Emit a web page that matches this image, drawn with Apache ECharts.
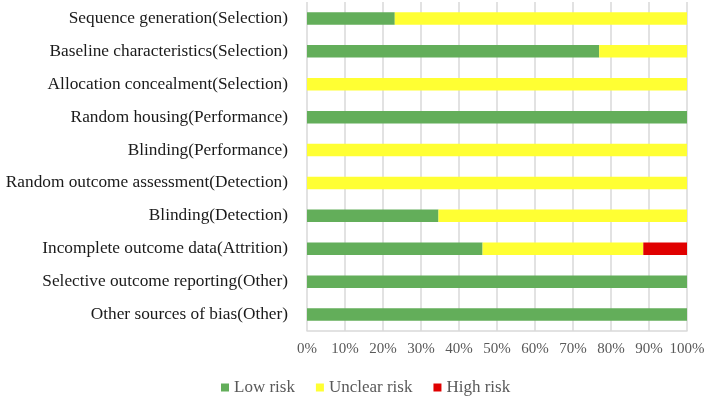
<!DOCTYPE html>
<html>
<head>
<meta charset="utf-8">
<script src="https://cdn.jsdelivr.net/npm/echarts@6/dist/echarts.min.js"></script>
<style>
  html, body { margin: 0; padding: 0; background: #fff; }
  #chart { width: 708px; height: 396px; }
</style>
</head>
<body>
<div id="chart"></div>
<script>
// risk of bias domains, top to bottom
var categories = [
    'Sequence generation(Selection)',
    'Baseline characteristics(Selection)',
    'Allocation concealment(Selection)',
    'Random housing(Performance)',
    'Blinding(Performance)',
    'Random outcome assessment(Detection)',
    'Blinding(Detection)',
    'Incomplete outcome data(Attrition)',
    'Selective outcome reporting(Other)',
    'Other sources of bias(Other)'
];
// percentages
var lowRisk = [23.1, 76.9, 0, 100, 0, 0, 34.6, 46.2, 100, 100];
var unclearRisk = [76.9, 23.1, 100, 0, 100, 100, 65.4, 42.3, 0, 0];
var highRisk = [0, 0, 0, 0, 0, 0, 0, 11.5, 0, 0];
var xTicks = [0, 10, 20, 30, 40, 50, 60, 70, 80, 90, 100];

var font = '"Liberation Serif", "Times New Roman", serif';
var myChart = echarts.init(document.getElementById('chart'));

function makeSeries(name, data, color) {
    return {
        name: name,
        type: 'bar',
        stack: 'total',
        barWidth: '38%',
        data: data,
        itemStyle: { color: color }
    };
}

var option = {
    animation: false,
    textStyle: { fontFamily: font },
    grid: {
        left: 307,
        right: 21,
        top: 2,
        bottom: 65
    },
    legend: {
        left: 216,
        top: 374,
        icon: 'rect',
        itemWidth: 8,
        itemHeight: 8,
        itemGap: 21,
        textStyle: { fontFamily: font, fontSize: 17, color: '#595959' },
        data: ['Low risk', 'Unclear risk', 'High risk']
    },
    xAxis: {
        type: 'value',
        min: xTicks[0],
        max: xTicks[xTicks.length - 1],
        interval: 10,
        axisLine: { show: true, lineStyle: { color: '#d9d9d9', width: 1.5 } },
        axisTick: { show: false },
        splitLine: { show: true, lineStyle: { color: '#d9d9d9', width: 1.5 } },
        axisLabel: {
            margin: 11,
            fontFamily: font,
            fontSize: 15,
            color: '#595959',
            formatter: '{value}%'
        }
    },
    yAxis: {
        type: 'category',
        inverse: true,
        data: categories,
        axisLine: { show: false },
        axisTick: { show: false },
        axisLabel: {
            margin: 19,
            fontFamily: font,
            fontSize: 17.3,
            color: '#1a1a1a'
        }
    },
    series: [
        makeSeries('Low risk', lowRisk, '#63ae5a'),
        makeSeries('Unclear risk', unclearRisk, '#ffff33'),
        makeSeries('High risk', highRisk, '#e00000')
    ]
};
myChart.setOption(option);
</script>
</body>
</html>
